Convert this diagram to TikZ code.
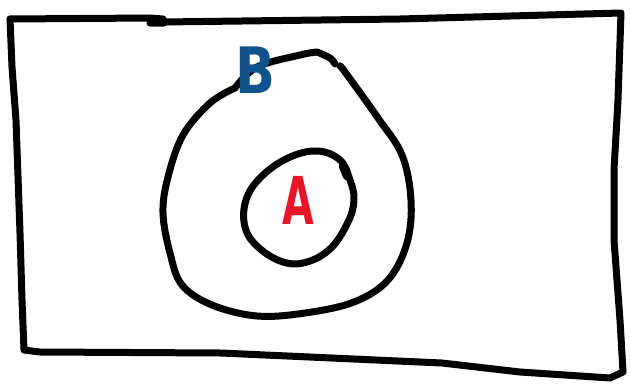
\documentclass[tikz,border=0pt]{standalone}
\usepackage{fontspec}
\setsansfont{DejaVu Sans}
\definecolor{bblue}{RGB}{16,82,140}
\definecolor{ared}{RGB}{232,20,40}
\begin{document}
\begin{tikzpicture}[x=1pt,y=-1pt,
  pen/.style={line width=7pt,line cap=round,line join=round,black},
  lbl/.style={inner sep=0pt,font=\sffamily}]
\useasboundingbox (0,0) rectangle (630,386);
% universe rectangle
\draw[pen] (10,19) -- (150,18) -- (163,19) -- (164,23) -- (150,23);
\draw[pen] (163,22) -- (400,19) -- (621,13)
  -- (618,100) -- (614,170) -- (614,240) -- (620,320) -- (623,372)
  -- (610,378) -- (520,372) -- (442,363) -- (221,353) -- (40,352) -- (24,350)
  -- (22,300) -- (20,233) -- (16,120) -- (12,67) -- (10,19);
% outer set B
\draw[pen] plot[smooth,tension=0.6] coordinates {(235,88) (257,67) (300,55) (317,52)};
\draw[pen] plot[smooth,tension=0.6] coordinates {(317,52) (330,58) (335,64)};
\draw[pen] plot[smooth,tension=0.6] coordinates {(340,66) (345,72) (378,118) (402,155) (411,200) (407,243) (388,280) (354,302) (305,313) (257,316) (212,305) (182,285) (170,253) (163,213) (168,177) (183,135) (210,103) (235,88)};
% inner set A
\draw[pen] plot[smooth cycle,tension=0.65] coordinates {(317,151) (340,160) (350,180) (354,200) (348,222) (331,248) (307,262) (283,262) (258,247) (245,227) (246,200) (261,177) (288,158)};
\draw[pen,line width=8.5pt] (343,166) -- (347,176);
% labels
\node[lbl,text=bblue,font=\sffamily\bfseries\fontsize{64}{64}\selectfont,xscale=0.82] (labelB) at (255,70) {B};
\node[lbl,text=ared,font=\sffamily\bfseries\fontsize{66}{66}\selectfont,xscale=0.62] (labelA) at (298,200) {A};
\end{tikzpicture}
\end{document}
